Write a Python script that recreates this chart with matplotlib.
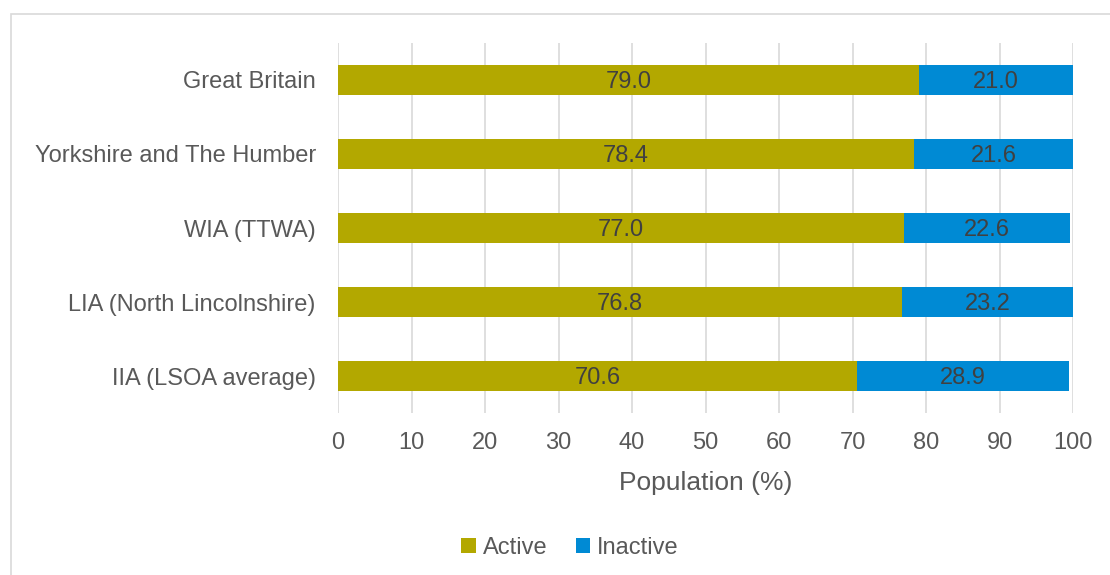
import matplotlib.pyplot as plt
from matplotlib.patches import Rectangle

# данные
categories = ['Great Britain', 'Yorkshire and The Humber', 'WIA (TTWA)',
              'LIA (North Lincolnshire)', 'IIA (LSOA average)']
active = [79.0, 78.4, 77.0, 76.8, 70.6]
inactive = [21.0, 21.6, 22.6, 23.2, 28.9]
ticks = [0, 10, 20, 30, 40, 50, 60, 70, 80, 90, 100]

c_active = '#B3A800'
c_inactive = '#008AD4'
c_text = '#595959'

plt.rcParams['font.family'] = ['Liberation Sans', 'DejaVu Sans']

fig = plt.figure(figsize=(11.1, 5.75), dpi=100)
ax = fig.add_axes([338 / 1110, 1 - 413 / 575, (1073 - 338) / 1110, 370 / 575])

# рамка вокруг картинки
fig.patches.append(Rectangle((11 / 1110, -0.05), 1.2, 1 - 14 / 575 + 0.05,
                             transform=fig.transFigure, fill=False,
                             edgecolor='#D9D9D9', linewidth=1.2))

y = list(range(len(categories)))[::-1]
h = 0.41
ax.barh(y, active, height=h, color=c_active, label='Active', zorder=2)
ax.barh(y, inactive, left=active, height=h, color=c_inactive, label='Inactive', zorder=2)

for yi, a, b in zip(y, active, inactive):
    ax.text(a / 2, yi - 0.03, f'{a:.1f}', ha='center', va='center', fontsize=17, color='#404040', zorder=3)
    ax.text(a + b / 2, yi - 0.03, f'{b:.1f}', ha='center', va='center', fontsize=17, color='#404040', zorder=3)

ax.set_xlim(0, 100)
ax.set_ylim(-0.5, len(categories) - 0.5)
ax.set_xticks(ticks)
ax.set_yticks(y)
ax.set_yticklabels(categories)
ax.grid(axis='x', color='#D9D9D9', linewidth=1.2, zorder=0)
for s in ax.spines.values():
    s.set_visible(False)
ax.tick_params(length=0, labelsize=17, labelcolor=c_text)
ax.tick_params(axis='x', pad=14)
ax.tick_params(axis='y', pad=16)
ax.set_xlabel('Population (%)', fontsize=19, color=c_text, labelpad=12)

fig.legend(loc='center', bbox_to_anchor=(570 / 1110, 1 - 548 / 575), ncol=2, frameon=False,
           fontsize=17, labelcolor=c_text, handlelength=0.6, handleheight=0.6,
           handletextpad=0.3, columnspacing=1.2)

fig.savefig('out.png', dpi=100)
